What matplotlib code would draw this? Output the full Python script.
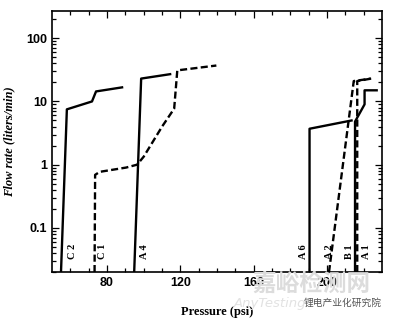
import numpy as np
import matplotlib.pyplot as plt
from matplotlib.ticker import LogLocator, FixedLocator, FuncFormatter

# curve data (pressure psi, flow rate liters/min)
c2_x = [54.9, 58.1, 71.8, 74.0, 88.2]
c2_y = [0.02, 7.5, 10.0, 14.4, 16.7]

c1_x = [73.2, 73.5, 76.0, 90.4, 96.4, 100.0, 110.0, 116.6, 118.3, 139.6]
c1_y = [0.02, 0.69, 0.77, 0.90, 1.0, 1.34, 4.0, 7.7, 31.0, 37.0]

a4_x = [94.8, 98.6, 114.4]
a4_y = [0.02, 23.0, 27.0]

a6_x = [190.4, 190.4, 213.3]
a6_y = [0.02, 3.7, 5.0]

a2_x = [201.0, 214.5, 224.0]
a2_y = [0.02, 21.0, 23.0]

b1_x = [215.2, 215.2, 220.4, 220.4, 227.0]
b1_y = [0.02, 4.8, 9.0, 15.0, 15.0]

a1_x = [216.4, 216.4, 224.0]
a1_y = [0.02, 21.0, 23.0]

labels = ["C 2", "C 1", "A 4", "A 6", "A 2", "B 1", "A 1"]
label_x = [60.9, 77.3, 100.2, 187.1, 201.3, 212.2, 221.5]
label_y = 0.042

fig = plt.figure(figsize=(3.94, 3.22), dpi=100)
ax = fig.add_axes([0.132, 0.155, 0.838, 0.811])

dash = (0, (3.0, 1.4))
ax.plot(c2_x, c2_y, "k-", lw=1.7)
ax.plot(c1_x, c1_y, color="k", ls=dash, lw=1.7)
ax.plot(a4_x, a4_y, "k-", lw=1.7)
ax.plot(a6_x, a6_y, "k-", lw=1.7)
ax.plot(a2_x, a2_y, color="k", ls=dash, lw=1.7)
ax.plot(b1_x, b1_y, "k-", lw=1.7)
ax.plot(a1_x, a1_y, color="k", ls=dash, lw=1.7)

for lab, lx in zip(labels, label_x):
    ax.text(lx, label_y, lab, rotation=90, ha="center", va="center",
            fontsize=7.5, family="Liberation Serif", fontweight="bold")

ax.set_yscale("log")
ax.set_xlim(50, 230)
ax.set_ylim(0.02, 270)

ax.xaxis.set_major_locator(FixedLocator([80, 120, 160, 200]))
ax.xaxis.set_minor_locator(FixedLocator(np.arange(60, 230, 10)))
ax.yaxis.set_major_locator(LogLocator(base=10))
ax.yaxis.set_minor_locator(LogLocator(base=10, subs=np.arange(2, 10)))
ax.yaxis.set_major_formatter(FuncFormatter(lambda v, p: "%g" % v))
ax.yaxis.set_minor_formatter(FuncFormatter(lambda v, p: ""))

ax.tick_params(which="both", direction="in", top=True, right=True,
               width=0.9, labelsize=9)
ax.tick_params(which="major", length=5)
ax.tick_params(which="minor", length=3)
for t in ax.get_xticklabels() + ax.get_yticklabels():
    t.set_fontweight("bold")
    t.set_family("Liberation Sans")
for s in ax.spines.values():
    s.set_linewidth(1.2)

ax.set_xlabel("Pressure (psi)", family="Liberation Serif", fontweight="bold",
              fontsize=9, labelpad=12)
ax.set_ylabel("Flow rate (liters/min)", family="Liberation Serif",
              fontweight="bold", fontstyle="italic", fontsize=9, labelpad=8)

# watermark
fig.text(0.79, 0.118, "嘉峪检测网", family="Noto Sans CJK SC", fontsize=17,
         color="#dcdcdc", ha="center", va="center", fontweight="bold",
         zorder=0)
fig.text(0.685, 0.058, "AnyTesting", fontsize=9.5, color="#e2e2e2",
         style="italic", ha="center", va="center", zorder=0)
fig.text(0.87, 0.058, "锂电产业化研究院", family="Noto Sans CJK SC",
         fontsize=7, color="#555555", ha="center", va="center")

fig.savefig("out.png", dpi=100)
